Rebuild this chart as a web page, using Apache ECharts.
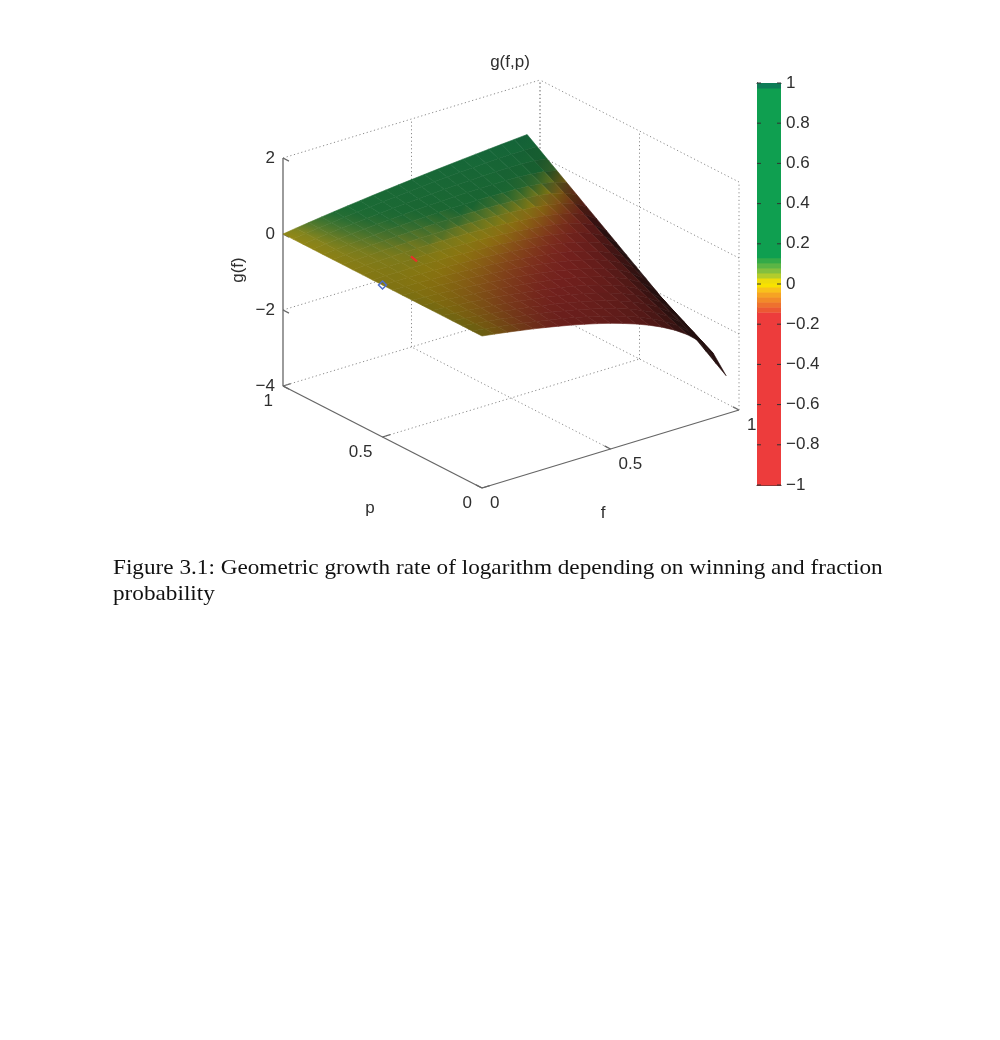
<!DOCTYPE html>
<html>
<head>
<meta charset="utf-8">
<script src="https://cdn.jsdelivr.net/npm/echarts@6.0.0/dist/echarts.min.js"></script>
<style>
  html, body { margin: 0; padding: 0; background: #fff; }
  #chart { width: 1000px; height: 1040px; }
</style>
</head>
<body>
<div id="chart"></div>
<script>
// grid of the surface g(f,p), one row per p value
var fValues = [0, 0.05, 0.1, 0.15, 0.2, 0.25, 0.3, 0.35, 0.4, 0.45, 0.5, 0.55, 0.6, 0.65, 0.7, 0.75, 0.8, 0.85, 0.9, 0.95];
var pValues = [0, 0.05, 0.1, 0.15, 0.2, 0.25, 0.3, 0.35, 0.4, 0.45, 0.5, 0.55, 0.6, 0.65, 0.7, 0.75, 0.8, 0.85, 0.9, 0.95, 1];
var gRows = [
  [0, -0.051, -0.105, -0.163, -0.223, -0.288, -0.357, -0.431, -0.511, -0.598, -0.693, -0.799, -0.916, -1.050, -1.204, -1.386, -1.609, -1.897, -2.303, -2.996],
  [0, -0.046, -0.095, -0.148, -0.203, -0.263, -0.326, -0.395, -0.469, -0.550, -0.638, -0.737, -0.847, -0.973, -1.118, -1.289, -1.500, -1.772, -2.156, -2.813],
  [0, -0.041, -0.085, -0.132, -0.183, -0.237, -0.295, -0.358, -0.426, -0.501, -0.583, -0.675, -0.778, -0.895, -1.031, -1.192, -1.390, -1.646, -2.008, -2.629],
  [0, -0.036, -0.075, -0.117, -0.163, -0.212, -0.264, -0.322, -0.384, -0.453, -0.528, -0.613, -0.709, -0.818, -0.944, -1.095, -1.280, -1.521, -1.861, -2.446],
  [0, -0.031, -0.065, -0.102, -0.142, -0.186, -0.233, -0.285, -0.341, -0.404, -0.473, -0.551, -0.639, -0.740, -0.857, -0.997, -1.170, -1.395, -1.714, -2.263],
  [0, -0.026, -0.055, -0.087, -0.122, -0.161, -0.202, -0.249, -0.299, -0.356, -0.419, -0.490, -0.570, -0.663, -0.771, -0.900, -1.060, -1.269, -1.567, -2.080],
  [0, -0.021, -0.045, -0.072, -0.102, -0.135, -0.171, -0.212, -0.257, -0.307, -0.364, -0.428, -0.500, -0.585, -0.684, -0.803, -0.950, -1.143, -1.419, -1.897],
  [0, -0.016, -0.035, -0.057, -0.082, -0.109, -0.140, -0.175, -0.215, -0.259, -0.309, -0.366, -0.431, -0.508, -0.597, -0.706, -0.841, -1.018, -1.272, -1.714],
  [0, -0.011, -0.025, -0.042, -0.061, -0.083, -0.109, -0.138, -0.172, -0.210, -0.254, -0.304, -0.362, -0.430, -0.510, -0.608, -0.731, -0.892, -1.125, -1.530],
  [0, -0.006, -0.015, -0.027, -0.041, -0.058, -0.078, -0.102, -0.130, -0.162, -0.199, -0.242, -0.293, -0.353, -0.424, -0.511, -0.621, -0.767, -0.978, -1.347],
  [0, -0.001, -0.005, -0.011, -0.020, -0.032, -0.047, -0.065, -0.087, -0.113, -0.144, -0.180, -0.223, -0.275, -0.337, -0.413, -0.511, -0.641, -0.830, -1.164],
  [0, 0.004, 0.005, 0.004, 0.001, -0.007, -0.016, -0.029, -0.045, -0.065, -0.089, -0.118, -0.154, -0.198, -0.251, -0.316, -0.401, -0.516, -0.683, -0.981],
  [0, 0.009, 0.015, 0.019, 0.021, 0.019, 0.015, 0.008, -0.002, -0.016, -0.034, -0.056, -0.084, -0.120, -0.164, -0.218, -0.291, -0.390, -0.536, -0.798],
  [0, 0.014, 0.025, 0.034, 0.042, 0.045, 0.046, 0.045, 0.041, 0.033, 0.021, 0.006, -0.015, -0.043, -0.078, -0.121, -0.181, -0.265, -0.389, -0.615],
  [0, 0.019, 0.035, 0.049, 0.062, 0.070, 0.077, 0.081, 0.083, 0.081, 0.076, 0.068, 0.055, 0.035, 0.009, -0.023, -0.071, -0.139, -0.242, -0.432],
  [0, 0.024, 0.045, 0.064, 0.083, 0.096, 0.108, 0.118, 0.126, 0.130, 0.131, 0.130, 0.125, 0.113, 0.096, 0.075, 0.039, -0.014, -0.095, -0.249],
  [0, 0.029, 0.055, 0.079, 0.103, 0.121, 0.139, 0.154, 0.168, 0.178, 0.186, 0.192, 0.194, 0.190, 0.182, 0.172, 0.149, 0.112, 0.052, -0.066],
  [0, 0.034, 0.065, 0.094, 0.124, 0.147, 0.170, 0.191, 0.211, 0.227, 0.241, 0.254, 0.264, 0.268, 0.269, 0.270, 0.259, 0.238, 0.199, 0.117],
  [0, 0.039, 0.075, 0.109, 0.144, 0.172, 0.201, 0.227, 0.253, 0.275, 0.296, 0.316, 0.333, 0.345, 0.355, 0.367, 0.369, 0.363, 0.346, 0.300],
  [0, 0.044, 0.085, 0.125, 0.163, 0.198, 0.232, 0.264, 0.295, 0.324, 0.351, 0.377, 0.402, 0.423, 0.443, 0.464, 0.479, 0.489, 0.494, 0.484],
  [0, 0.049, 0.095, 0.140, 0.182, 0.223, 0.262, 0.300, 0.336, 0.372, 0.405, 0.438, 0.470, 0.501, 0.531, 0.560, 0.588, 0.615, 0.642, 0.668]
];

var fTicks = [0, 0.5, 1];
var pTicks = [0, 0.5, 1];
var gTicks = [-4, -2, 0, 2];
var barTicks = [-1, -0.8, -0.6, -0.4, -0.2, 0, 0.2, 0.4, 0.6, 0.8, 1];

// colour bar bands (value bounds, band colours)
var colorBounds = [-1, -0.14, -0.115, -0.09, -0.065, -0.04, -0.015, 0.005, 0.03, 0.055, 0.08, 0.105, 0.13, 0.975, 1];
var colorBands = ['#ed3c3c', '#ec5833', '#ee712e', '#f28a29', '#f6a323', '#f9c11b', '#f8e200', '#eedc0a',
                  '#b3cc2c', '#84bf3e', '#5bb545', '#33aa48', '#0f9f50', '#0e7d57'];

// colours seen on the surface, by height
var surfaceStops = [-0.35, -0.2, -0.1, -0.02, 0.04, 0.1, 0.18, 1];
var surfaceColors = ['#e63c35', '#ee6a2c', '#f3a41f', '#f0d412', '#c8d02a', '#6ab845', '#1fa34c', '#0e8a55'];

// two marked points on the surface
var markF = [0, 0.2];
var markP = [0.5, 0.6];
var markG = [0, 0.02];
var markColors = ['#4f6fc8', '#e8302a'];

var gMin = -4;
var gMax = 2;

// oblique view of the box, in plane units (1 unit = 1px)
function proj(f, p, g) {
  return [257 * f - 199 * p, 78 * f + 102 * p + 38 * (g - gMin)];
}

function hexRgb(hex) {
  var a = parseInt(hex.slice(1), 16);
  return [(a >> 16) & 255, (a >> 8) & 255, a & 255];
}

function surfaceRgb(v) {
  if (v <= surfaceStops[0]) return hexRgb(surfaceColors[0]);
  for (var k = 1; k < surfaceStops.length; k++) {
    if (v <= surfaceStops[k]) {
      var t = (v - surfaceStops[k - 1]) / (surfaceStops[k] - surfaceStops[k - 1]);
      var a = hexRgb(surfaceColors[k - 1]), b = hexRgb(surfaceColors[k]);
      return [a[0] + (b[0] - a[0]) * t, a[1] + (b[1] - a[1]) * t, a[2] + (b[2] - a[2]) * t];
    }
  }
  return hexRgb(surfaceColors[surfaceColors.length - 1]);
}

var dark = [26, 14, 14];
function shadeRgb(rgb, shade, cover) {
  return 'rgb(' + rgb.map(function (c, k) {
    return Math.round(c * shade * (1 - cover) + dark[k] * cover);
  }).join(',') + ')';
}

// box lines: back walls, floor grid, axes and ticks
var segments = [];
function seg(a, b, kind) { segments.push({ a: a, b: b, kind: kind }); }
fTicks.forEach(function (f) {
  if (f > 0) seg([f, 1, gMin], [f, 1, gMax], 'dot');
  if (f > 0 && f < 1) seg([f, 0, gMin], [f, 1, gMin], 'dot');
  seg([f, 0, gMin], [f, 0.03, gMin], 'tick');
});
pTicks.forEach(function (p) {
  seg([1, p, gMin], [1, p, gMax], 'dot');
  if (p > 0 && p < 1) seg([0, p, gMin], [1, p, gMin], 'dot');
  seg([0, p, gMin], [0.03, p, gMin], 'tick');
});
gTicks.forEach(function (g) {
  seg([0, 1, g], [1, 1, g], 'dot');
  seg([1, 0, g], [1, 1, g], 'dot');
  seg([0, 1, g], [0, 0.97, g], 'tick');
});
seg([0, 1, gMin], [0, 1, gMax], 'axis');
seg([0, 0, gMin], [0, 1, gMin], 'axis');
seg([0, 0, gMin], [1, 0, gMin], 'axis');

// tick labels
var labels = [];
fTicks.forEach(function (f) { labels.push({ at: [f, 0, gMin], text: String(f), dx: 8, dy: 15, align: 'left' }); });
pTicks.forEach(function (p) { labels.push({ at: [0, p, gMin], text: String(p), dx: -10, dy: 15, align: 'right' }); });
gTicks.forEach(function (g) { labels.push({ at: [0, 1, g], text: String(g).replace('-', '\u2212'), dx: -8, dy: 0, align: 'right' }); });

// surface cells, far ones first
var cells = [];
for (var j = 0; j < pValues.length - 1; j++) {
  for (var i = 0; i < fValues.length - 1; i++) {
    cells.push([i, j, 0.564 * (fValues[i] + fValues[i + 1]) + 0.724 * (pValues[j] + pValues[j + 1])]);
  }
}
cells.sort(function (a, b) { return b[2] - a[2]; });

// light coming from the low-f side, above
var light = [-0.8, -0.1, 0.6];
var zScale = 0.77 / (gMax - gMin);

var font = 'Liberation Sans';
var textColor = '#2e2e2e';

var chart = echarts.init(document.getElementById('chart'), null, { renderer: 'canvas' });
chart.setOption({
  animation: false,
  backgroundColor: '#fff',
  grid: [
    { left: 262, top: 48, width: 520, height: 460 },
    { left: 757, top: 83, width: 24, height: 402 }
  ],
  xAxis: [
    { gridIndex: 0, type: 'value', min: -220, max: 300, show: false },
    { gridIndex: 1, type: 'value', min: 0, max: 1, position: 'bottom',
      axisLine: { show: true, onZero: false, lineStyle: { color: '#333', width: 1 } },
      axisTick: { show: false }, axisLabel: { show: false }, splitLine: { show: false } },
    { gridIndex: 1, type: 'value', min: 0, max: 1, position: 'top',
      axisLine: { show: true, onZero: false, lineStyle: { color: '#333', width: 1 } },
      axisTick: { show: false }, axisLabel: { show: false }, splitLine: { show: false } }
  ],
  yAxis: [
    { gridIndex: 0, type: 'value', min: -20, max: 440, show: false },
    { gridIndex: 1, type: 'value', min: -1, max: 1, interval: 0.2, position: 'right',
      axisLine: { show: true, lineStyle: { color: '#333', width: 1 } },
      axisTick: { show: false },
      axisLabel: {
        margin: 5, color: textColor, fontSize: 17, fontFamily: font,
        formatter: function (v) { return String(Math.round(v * 10) / 10).replace('-', '\u2212'); }
      },
      splitLine: { show: false } },
    { gridIndex: 1, type: 'value', min: -1, max: 1, interval: 0.2, position: 'left',
      axisLine: { show: true, lineStyle: { color: '#333', width: 1 } },
      axisTick: { show: false }, axisLabel: { show: false }, splitLine: { show: false } }
  ],
  graphic: [
    { type: 'text', x: 510, y: 62, style: { text: 'g(f,p)', fill: textColor, fontSize: 17, fontFamily: font, align: 'center', verticalAlign: 'middle' } },
    { type: 'text', x: 238, y: 270, rotation: Math.PI / 2, style: { text: 'g(f)', fill: textColor, fontSize: 17, fontFamily: font, align: 'center', verticalAlign: 'middle' } },
    { type: 'text', x: 370, y: 508, style: { text: 'p', fill: textColor, fontSize: 17, fontFamily: font, align: 'center', verticalAlign: 'middle' } },
    { type: 'text', x: 603, y: 513, style: { text: 'f', fill: textColor, fontSize: 17, fontFamily: font, align: 'center', verticalAlign: 'middle' } },
    { type: 'text', x: 113, y: 568, scaleX: 1.055, style: { text: 'Figure 3.1: Geometric growth rate of logarithm depending on winning and fraction', fill: '#111', fontSize: 22, fontFamily: 'Liberation Serif', align: 'left', verticalAlign: 'middle' } },
    { type: 'text', x: 113, y: 594, scaleX: 1.055, style: { text: 'probability', fill: '#111', fontSize: 22, fontFamily: 'Liberation Serif', align: 'left', verticalAlign: 'middle' } }
  ],
  series: [
    {
      type: 'custom',
      name: 'box',
      xAxisIndex: 0, yAxisIndex: 0,
      silent: true,
      data: segments.map(function (s, k) { return [k]; }),
      renderItem: function (params, api) {
        var s = segments[api.value(0)];
        var a = api.coord(proj(s.a[0], s.a[1], s.a[2]));
        var b = api.coord(proj(s.b[0], s.b[1], s.b[2]));
        var style = s.kind === 'dot'
          ? { stroke: '#8c8c8c', lineWidth: 1, lineDash: [1.2, 2.6] }
          : { stroke: '#666', lineWidth: 1.3 };
        return { type: 'line', shape: { x1: a[0], y1: a[1], x2: b[0], y2: b[1] }, style: style };
      }
    },
    {
      type: 'custom',
      name: 'surface',
      xAxisIndex: 0, yAxisIndex: 0,
      silent: true,
      data: cells,
      renderItem: function (params, api) {
        var i = api.value(0), j = api.value(1);
        var corners = [[i, j], [i + 1, j], [i + 1, j + 1], [i, j + 1]];
        var gs = corners.map(function (c) { return gRows[c[1]][c[0]]; });
        var pts = corners.map(function (c, k) {
          return api.coord(proj(fValues[c[0]], pValues[c[1]], gs[k]));
        });
        // mesh-line density (fine grid lines crowd where the cell is foreshortened)
        var ax = pts[1][0] - pts[0][0], ay = pts[1][1] - pts[0][1];
        var bx = pts[3][0] - pts[0][0], by = pts[3][1] - pts[0][1];
        var cross = Math.abs(ax * by - ay * bx);
        var cover = Math.min(0.8, 0.62 * (Math.hypot(ax, ay) + Math.hypot(bx, by)) / (0.4 * cross + 1e-6));
        // diffuse light from the surface slope
        var df = fValues[i + 1] - fValues[i], dp = pValues[j + 1] - pValues[j];
        var sf = zScale * ((gs[1] - gs[0]) + (gs[2] - gs[3])) / (2 * df);
        var sp = zScale * ((gs[3] - gs[0]) + (gs[2] - gs[1])) / (2 * dp);
        var nl = Math.sqrt(sf * sf + sp * sp + 1);
        var ll = Math.sqrt(light[0] * light[0] + light[1] * light[1] + light[2] * light[2]);
        var ndl = Math.max(0, (-sf * light[0] - sp * light[1] + light[2]) / (nl * ll));
        var shade = Math.min(1, 0.3 + 0.9 * ndl);
        // colour gradient from the lowest to the highest corner
        var lo = 0, hi = 0;
        gs.forEach(function (g, k) { if (g < gs[lo]) lo = k; if (g > gs[hi]) hi = k; });
        var cLo = shadeRgb(surfaceRgb(gs[lo]), shade, cover);
        var cHi = shadeRgb(surfaceRgb(gs[hi]), shade, cover);
        var fill = cLo;
        var dx = pts[hi][0] - pts[lo][0], dy = pts[hi][1] - pts[lo][1];
        if (lo !== hi && dx * dx + dy * dy > 1) {
          fill = new echarts.graphic.LinearGradient(pts[lo][0], pts[lo][1], pts[hi][0], pts[hi][1],
            [{ offset: 0, color: cLo }, { offset: 1, color: cHi }], true);
        }
        return {
          type: 'polygon',
          shape: { points: pts },
          style: { fill: fill, stroke: fill, lineWidth: 0.6 }
        };
      }
    },
    {
      type: 'custom',
      name: 'marks',
      xAxisIndex: 0, yAxisIndex: 0,
      silent: true,
      data: markF.map(function (f, k) { return [k]; }),
      renderItem: function (params, api) {
        var k = api.value(0);
        var c = api.coord(proj(markF[k], markP[k], markG[k]));
        if (k === 0) {
          return { type: 'polygon', shape: { points: [[c[0], c[1] - 4], [c[0] + 4, c[1]], [c[0], c[1] + 4], [c[0] - 4, c[1]]] },
            style: { fill: 'none', stroke: markColors[k], lineWidth: 1.5 } };
        }
        return { type: 'line', shape: { x1: c[0] - 3, y1: c[1] - 2, x2: c[0] + 3, y2: c[1] + 3 },
          style: { stroke: markColors[k], lineWidth: 2.2 } };
      }
    },
    {
      type: 'custom',
      name: 'tick labels',
      xAxisIndex: 0, yAxisIndex: 0,
      silent: true,
      data: labels.map(function (l, k) { return [k]; }),
      renderItem: function (params, api) {
        var l = labels[api.value(0)];
        var c = api.coord(proj(l.at[0], l.at[1], l.at[2]));
        return {
          type: 'text', x: c[0] + l.dx, y: c[1] + l.dy,
          style: { text: l.text, fill: textColor, fontSize: 17, fontFamily: font, align: l.align, verticalAlign: 'middle' }
        };
      }
    },
    {
      type: 'custom',
      name: 'colorbar',
      xAxisIndex: 1, yAxisIndex: 1,
      silent: true,
      data: colorBands.map(function (c, k) { return [k]; }),
      renderItem: function (params, api) {
        var k = api.value(0);
        var top = api.coord([0, colorBounds[k + 1]]);
        var bottom = api.coord([1, colorBounds[k]]);
        return {
          type: 'rect',
          shape: { x: top[0], y: top[1], width: bottom[0] - top[0], height: bottom[1] - top[1] + 0.5 },
          style: { fill: colorBands[k] }
        };
      }
    },
    {
      type: 'custom',
      name: 'colorbar ticks',
      xAxisIndex: 1, yAxisIndex: 1,
      silent: true,
      data: barTicks.map(function (t) { return [0, t]; }),
      renderItem: function (params, api) {
        var l = api.coord([0, api.value(1)]);
        var r = api.coord([1, api.value(1)]);
        var st = { stroke: '#333', lineWidth: 1 };
        return {
          type: 'group',
          children: [
            { type: 'line', shape: { x1: l[0], y1: l[1], x2: l[0] + 4, y2: l[1] }, style: st },
            { type: 'line', shape: { x1: r[0] - 4, y1: r[1], x2: r[0], y2: r[1] }, style: st }
          ]
        };
      }
    }
  ]
});
</script>
</body>
</html>
